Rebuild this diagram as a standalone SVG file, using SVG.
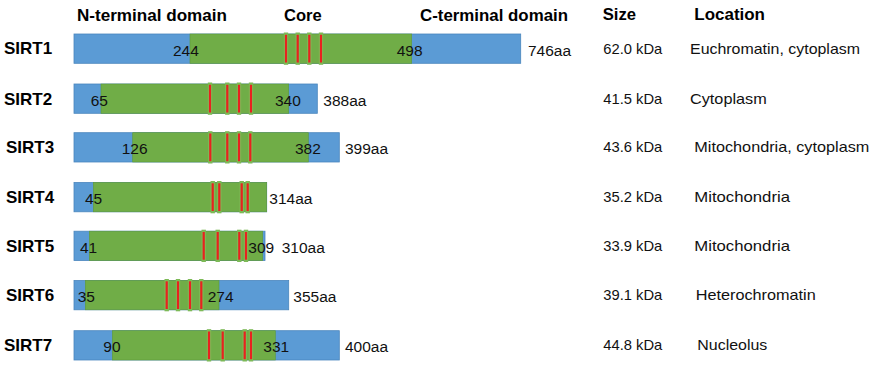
<svg xmlns="http://www.w3.org/2000/svg" width="882" height="365" viewBox="0 0 882 365">
<style>
.hd{font-family:"Liberation Sans",Arial,sans-serif;font-weight:bold;font-size:17px;fill:#000}
.nm{font-family:"Liberation Sans",Arial,sans-serif;font-weight:bold;font-size:17px;fill:#000}
.num{font-family:"Liberation Sans",Arial,sans-serif;font-size:15.5px;fill:#111}
.col{font-family:"Liberation Sans",Arial,sans-serif;font-size:14.5px;fill:#111}
.b{fill:#5B9BD5;stroke:#4A86BD;stroke-width:0.8}
.g{fill:#70AD47;stroke:#5E9A3A;stroke-width:0.6}
.rk{fill:#7DBA56}
.r{fill:#E8221F}
</style>
<defs>
<g id="mk"><rect class="rk" x="-2.2" y="-1.5" width="4.4" height="32.3"/><rect class="r" x="-1.1" y="0.8" width="2.2" height="27.7"/></g>
</defs>
<g id="headers">
<text class="hd" x="77" y="20.5" textLength="150" lengthAdjust="spacingAndGlyphs">N-terminal domain</text>
<text class="hd" x="284" y="20.5" textLength="37.7" lengthAdjust="spacingAndGlyphs">Core</text>
<text class="hd" x="420" y="20.5" textLength="148" lengthAdjust="spacingAndGlyphs">C-terminal domain</text>
<text class="hd" x="602.7" y="20" textLength="33.3" lengthAdjust="spacingAndGlyphs">Size</text>
<text class="hd" x="694.3" y="20" textLength="70.7" lengthAdjust="spacingAndGlyphs">Location</text>
</g>
<g id="sirt1">
<text class="nm" x="4" y="54">SIRT1</text>
<rect class="b" x="74" y="34" width="446.7" height="29.3"/>
<rect class="g" x="190" y="34" width="221.7" height="29.3"/>
<use href="#mk" x="286" y="34"/><use href="#mk" x="297.7" y="34"/><use href="#mk" x="309.3" y="34"/><use href="#mk" x="321" y="34"/>
<text class="num" x="173" y="55.5">244</text>
<text class="num" x="396.7" y="55.5">498</text>
<text class="num" x="528" y="55.5">746aa</text>
<text class="col" x="603.3" y="53.5" textLength="59" lengthAdjust="spacingAndGlyphs">62.0 kDa</text>
<text class="col" x="690" y="53.5" textLength="170" lengthAdjust="spacingAndGlyphs">Euchromatin, cytoplasm</text>
</g>
<g id="sirt2">
<text class="nm" x="4" y="104.5">SIRT2</text>
<rect class="b" x="74" y="84" width="243.3" height="29.3"/>
<rect class="g" x="101" y="84" width="187.7" height="29.3"/>
<use href="#mk" x="210" y="84"/><use href="#mk" x="227.3" y="84"/><use href="#mk" x="239" y="84"/><use href="#mk" x="251" y="84"/>
<text class="num" x="90.7" y="105.5">65</text>
<text class="num" x="275" y="105.5">340</text>
<text class="num" x="323.3" y="105.5">388aa</text>
<text class="col" x="603.3" y="103.5" textLength="59" lengthAdjust="spacingAndGlyphs">41.5 kDa</text>
<text class="col" x="690" y="103.5" textLength="76.7" lengthAdjust="spacingAndGlyphs">Cytoplasm</text>
</g>
<g id="sirt3">
<text class="nm" x="6" y="153.2">SIRT3</text>
<rect class="b" x="74" y="132.7" width="265.3" height="29.3"/>
<rect class="g" x="132.7" y="132.7" width="175.6" height="29.3"/>
<use href="#mk" x="210.3" y="132.7"/><use href="#mk" x="227.3" y="132.7"/><use href="#mk" x="239" y="132.7"/><use href="#mk" x="250.3" y="132.7"/>
<text class="num" x="121.7" y="154.2">126</text>
<text class="num" x="295" y="154.2">382</text>
<text class="num" x="345" y="154.2">399aa</text>
<text class="col" x="603.3" y="152.2" textLength="59" lengthAdjust="spacingAndGlyphs">43.6 kDa</text>
<text class="col" x="694.3" y="152.2" textLength="175" lengthAdjust="spacingAndGlyphs">Mitochondria, cytoplasm</text>
</g>
<g id="sirt4">
<text class="nm" x="6" y="203">SIRT4</text>
<rect class="b" x="74" y="182.5" width="192.7" height="29.3"/>
<rect class="g" x="93.3" y="182.5" width="173.4" height="29.3"/>
<use href="#mk" x="212.7" y="182.5"/><use href="#mk" x="219.3" y="182.5"/><use href="#mk" x="241.7" y="182.5"/><use href="#mk" x="247.7" y="182.5"/>
<text class="num" x="85" y="204">45</text>
<text class="num" x="269.3" y="204">314aa</text>
<text class="col" x="603.3" y="202" textLength="59" lengthAdjust="spacingAndGlyphs">35.2 kDa</text>
<text class="col" x="694.3" y="202" textLength="95.7" lengthAdjust="spacingAndGlyphs">Mitochondria</text>
</g>
<g id="sirt5">
<text class="nm" x="6" y="251.7">SIRT5</text>
<rect class="b" x="74" y="231.2" width="191" height="29.3"/>
<rect class="g" x="89.3" y="231.2" width="173.4" height="29.3"/>
<use href="#mk" x="203.7" y="231.2"/><use href="#mk" x="217.7" y="231.2"/><use href="#mk" x="239.3" y="231.2"/><use href="#mk" x="246" y="231.2"/>
<text class="num" x="80" y="252.7">41</text>
<text class="num" x="248.3" y="252.7">309</text>
<text class="num" x="281.7" y="252.7">310aa</text>
<text class="col" x="603.3" y="250.7" textLength="59" lengthAdjust="spacingAndGlyphs">33.9 kDa</text>
<text class="col" x="694.3" y="250.7" textLength="95.7" lengthAdjust="spacingAndGlyphs">Mitochondria</text>
</g>
<g id="sirt6">
<text class="nm" x="6" y="301">SIRT6</text>
<rect class="b" x="74" y="280.5" width="214.7" height="29.3"/>
<rect class="g" x="85.3" y="280.5" width="133.7" height="29.3"/>
<use href="#mk" x="166.7" y="280.5"/><use href="#mk" x="178" y="280.5"/><use href="#mk" x="190" y="280.5"/><use href="#mk" x="201.3" y="280.5"/>
<text class="num" x="77.7" y="302">35</text>
<text class="num" x="207.7" y="302">274</text>
<text class="num" x="293.3" y="302">355aa</text>
<text class="col" x="603.3" y="300" textLength="59" lengthAdjust="spacingAndGlyphs">39.1 kDa</text>
<text class="col" x="695.7" y="300" textLength="120" lengthAdjust="spacingAndGlyphs">Heterochromatin</text>
</g>
<g id="sirt7">
<text class="nm" x="4" y="351.2">SIRT7</text>
<rect class="b" x="74" y="330.7" width="265.3" height="29.3"/>
<rect class="g" x="112.3" y="330.7" width="163" height="29.3"/>
<use href="#mk" x="209" y="330.7"/><use href="#mk" x="222.7" y="330.7"/><use href="#mk" x="244.7" y="330.7"/><use href="#mk" x="251" y="330.7"/>
<text class="num" x="103.3" y="352.2">90</text>
<text class="num" x="263.3" y="352.2">331</text>
<text class="num" x="345" y="352.2">400aa</text>
<text class="col" x="603.3" y="350.2" textLength="59" lengthAdjust="spacingAndGlyphs">44.8 kDa</text>
<text class="col" x="697.3" y="350.2" textLength="70" lengthAdjust="spacingAndGlyphs">Nucleolus</text>
</g>
</svg>
